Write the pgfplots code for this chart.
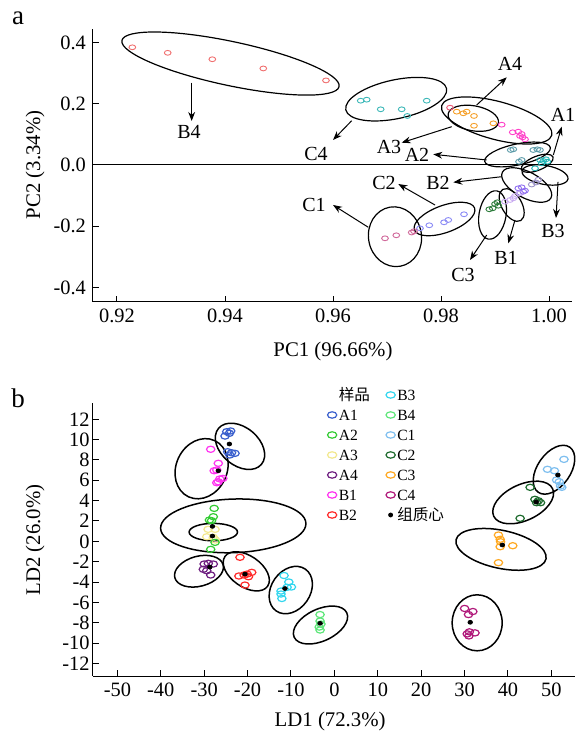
\documentclass[border=0pt]{standalone}
\usepackage{fontspec}
\setmainfont{Liberation Serif}
\newfontfamily\cjk{Noto Sans CJK SC}
\usepackage{pgfplots}
\pgfplotsset{compat=1.18}
\usetikzlibrary{arrows.meta}

% panel a colours
\definecolor{aB4}{HTML}{F07070}
\definecolor{aC4}{HTML}{3DB8B8}
\definecolor{aRd}{HTML}{F05A78}
\definecolor{aA3}{HTML}{F5A02A}
\definecolor{aA4}{HTML}{FF40C8}
\definecolor{aA2}{HTML}{5A9AA8}
\definecolor{aA1}{HTML}{22B5B5}
\definecolor{aB3}{HTML}{9B93C8}
\definecolor{aB2}{HTML}{9070F0}
\definecolor{aB1}{HTML}{C8AAF0}
\definecolor{aC3}{HTML}{2E7D3C}
\definecolor{aC2}{HTML}{8A8AF5}
\definecolor{aC1}{HTML}{D0689A}
% panel b colours
\definecolor{bA1}{HTML}{3A5FCD}
\definecolor{bA2}{HTML}{33CC33}
\definecolor{bA3}{HTML}{F2E88E}
\definecolor{bA4}{HTML}{6E1F80}
\definecolor{bB1}{HTML}{FF33F0}
\definecolor{bB2}{HTML}{FF2A2A}
\definecolor{bB3}{HTML}{33D6EE}
\definecolor{bB4}{HTML}{5EE67A}
\definecolor{bC1}{HTML}{7FBFEF}
\definecolor{bC2}{HTML}{1E6B2E}
\definecolor{bC3}{HTML}{FFA820}
\definecolor{bC4}{HTML}{B0187A}

\tikzset{
  arr/.style={-{Stealth[length=4.5pt,width=3.4pt]}, line width=0.5pt},
  lab/.style={font=\fontsize{10}{12}\selectfont, inner sep=0pt},
}
% confidence ellipse: [line width]{cx}{cy}{x radius pt}{y radius pt}{angle}
\newcommand{\ellip}[6][0.6pt]{\draw[black, line width=#1, rotate around={#6:(axis cs:#2,#3)}] (axis cs:#2,#3) ellipse [x radius=#4pt, y radius=#5pt];}

\pgfplotsset{
  base/.style={scale only axis, axis x line=bottom, axis y line=left,
    axis line style={-, line width=0.5pt}, tick align=inside, major tick length=3.2pt,
    tick style={black, line width=0.5pt}, clip=false,
    /pgf/number format/assume math mode=true,
    tick label style={font=\fontsize{10.2}{12}\selectfont},
    label style={font=\fontsize{10.4}{12}\selectfont}},
  pa/.style={only marks, mark=o, mark size=1.2pt, line width=0.45pt, mark options={xscale=1.4}, forget plot},
  pb/.style={only marks, mark=o, mark size=1.55pt, line width=0.6pt, mark options={xscale=1.35}, forget plot},
  cen/.style={only marks, mark=*, mark size=0.95pt, black, mark options={xscale=1.2}, forget plot},
  lg/.style={only marks, mark=o, mark size=1.6pt, line width=0.6pt, mark options={xscale=1.45}},
}

\begin{document}
\begin{tikzpicture}
\useasboundingbox (0,0) rectangle (288.5pt,369pt);
\node[font=\fontsize{13.5}{14}\selectfont] at (9pt,360pt) {a};
\node[font=\fontsize{13.5}{14}\selectfont] at (9pt,170pt) {b};

% ---------------- panel a : PCA ----------------
\begin{axis}[base, at={(46.5pt,218pt)}, anchor=south west,
  width=239.5pt, height=136.5pt,
  xmin=0.915556, xmax=1.004259, ymin=-0.447, ymax=0.4437,
  xtick={0.92,0.94,0.96,0.98,1.00}, ytick={-0.4,-0.2,0,0.2,0.4},
  xticklabel style={/pgf/number format/.cd, fixed, fixed zerofill, precision=2},
  yticklabel style={/pgf/number format/.cd, fixed, fixed zerofill, precision=1},
  xlabel={PC1 (96.66\%)}, ylabel={PC2 (3.34\%)},
  xlabel style={at={(axis description cs:0.501,-0.183)}, anchor=center},
  ylabel style={at={(axis description cs:-0.121,0.502)}, anchor=center},
]
\addplot[black, line width=0.5pt, forget plot] coordinates {(0.915556,0) (1.004259,0)};

\addplot[pa, color=aB4] coordinates {(0.92284,0.384) (0.92939,0.366) (0.93765,0.345) (0.94709,0.315) (0.95870,0.276)};
\addplot[pa, color=aC4] coordinates {(0.96513,0.2098) (0.96624,0.2131) (0.96883,0.1817) (0.97272,0.1817) (0.97376,0.1599) (0.97735,0.2098)};
\addplot[pa, color=aRd] coordinates {(0.98167,0.187)};
\addplot[pa, color=aA3] coordinates {(0.98291,0.174) (0.98413,0.1687) (0.98476,0.174) (0.98611,0.160) (0.98969,0.136) (0.98611,0.128)};
\addplot[pa, color=aA4] coordinates {(0.99124,0.1315) (0.99328,0.1067) (0.99431,0.1086) (0.99494,0.1011) (0.99513,0.0904) (0.99556,0.0838) (0.99463,0.0946)};
\addplot[pa, color=aA2] coordinates {(0.99291,0.0489) (0.99339,0.0512) (0.99709,0.0489) (0.99783,0.0512) (0.99833,0.0489) (0.99494,0.0163) (0.99444,0.0108)};
\addplot[pa, color=aA1] coordinates {(0.99833,0.0163) (0.99894,0.0131) (0.99944,0.0186) (0.99865,0.0055) (0.99741,-0.0108) (0.99969,0.0108)};
\addplot[pa, color=aB3] coordinates {(0.99680,-0.0636) (0.99759,-0.0571) (0.99802,-0.048)};
\addplot[pa, color=aB2] coordinates {(0.99431,-0.076) (0.99494,-0.0728) (0.99524,-0.0871) (0.99556,-0.0838) (0.99463,-0.0914)};
\addplot[pa, color=aB1] coordinates {(0.99185,-0.1197) (0.99278,-0.1142) (0.99339,-0.1086) (0.99370,-0.1011) (0.99450,-0.0923)};
\addplot[pa, color=aC3] coordinates {(0.98894,-0.1445) (0.98957,-0.1413) (0.99,-0.1272) (0.99043,-0.1217) (0.99061,-0.1328)};
\addplot[pa, color=aC2] coordinates {(0.97611,-0.2065) (0.97783,-0.1967) (0.98056,-0.187) (0.98135,-0.1794) (0.98426,-0.1608)};
\addplot[pa, color=aC1] coordinates {(0.96963,-0.2392) (0.97172,-0.2294) (0.97457,-0.2202) (0.975,-0.216)};

\ellip{0.94102}{0.331}{55.5}{11}{-12}
\ellip{0.97170}{0.2147}{25.75}{9.7}{12}
\ellip{0.99031}{0.1452}{28.5}{9.5}{-15}
\ellip{0.98598}{0.1524}{12.75}{6.25}{-10}
\ellip{0.99417}{0.0343}{16.75}{5.25}{12}
\ellip{0.99782}{0.0055}{8.5}{3.5}{22}
\ellip{0.99926}{-0.0326}{11.65}{4.75}{-10}
\ellip{0.99587}{-0.0653}{13.75}{6.5}{-28}
\ellip{0.99309}{-0.1305}{9}{5}{-60}
\ellip{0.98954}{-0.1631}{12.25}{6.75}{80}
\ellip{0.98065}{-0.1762}{16}{6.75}{20}
\ellip{0.97148}{-0.234}{13.25}{15}{10}

\draw[arr] (axis cs:0.93383,0.2685) -- (axis cs:0.93383,0.1436);
\node[lab] at (axis cs:0.93333,0.1077) {B4};
\draw[arr] (axis cs:0.96346,0.1445) -- (axis cs:0.96,0.0816);
\node[lab] at (axis cs:0.95685,0.0359) {C4};
\draw[arr] (axis cs:0.98661,0.1958) -- (axis cs:0.99217,0.2861);
\node[lab] at (axis cs:0.99278,0.3295) {A4};
\draw[arr] (axis cs:0.98198,0.125) -- (axis cs:0.97272,0.0728);
\node[lab] at (axis cs:0.97037,0.0587) {A3};
\draw[arr] (axis cs:0.98846,0.0163) -- (axis cs:0.97857,0.0349);
\node[lab] at (axis cs:0.97556,0.0326) {A2};
\draw[arr] (axis cs:1.0008,0.0326) -- (axis cs:1.00235,0.125);
\node[lab] at (axis cs:1.00259,0.1631) {A1};
\draw[arr] (axis cs:0.99124,-0.0382) -- (axis cs:0.98228,-0.0564);
\node[lab] at (axis cs:0.97944,-0.0587) {B2};
\draw[arr] (axis cs:1.00167,-0.055) -- (axis cs:1.00130,-0.1729);
\node[lab] at (axis cs:1.00074,-0.2153) {B3};
\draw[arr] (axis cs:0.9937,-0.1794) -- (axis cs:0.99246,-0.2555);
\node[lab] at (axis cs:0.99204,-0.3034) {B1};
\draw[arr] (axis cs:0.98846,-0.2284) -- (axis cs:0.98537,-0.31);
\node[lab] at (axis cs:0.98407,-0.3589) {C3};
\draw[arr] (axis cs:0.97889,-0.1305) -- (axis cs:0.97209,-0.062);
\node[lab] at (axis cs:0.96944,-0.0587) {C2};
\draw[arr] (axis cs:0.96654,-0.2033) -- (axis cs:0.96,-0.1305);
\node[lab] at (axis cs:0.95648,-0.1305) {C1};
\end{axis}

% ---------------- panel b : LDA ----------------
\begin{axis}[base, at={(46.5pt,31pt)}, anchor=south west,
  width=241pt, height=136.5pt,
  xmin=-55.62, xmax=55.44, ymin=-13.24, ymax=13.6,
  xtick={-50,-40,...,50}, ytick={-12,-10,...,12},
  yticklabel style={xshift=1.8pt},
  xlabel={LD1 (72.3\%)}, ylabel={LD2 (26.0\%)},
  xlabel style={at={(axis description cs:0.492,-0.168)}, anchor=center},
  ylabel style={at={(axis description cs:-0.120,0.498)}, anchor=center},
  legend columns=2, legend cell align=left,
  legend image code/.code={\draw[#1] plot coordinates {(0pt,0pt)};},
  legend style={at={(0.4857,1.073)}, anchor=north west, draw=none, fill=none,
    inner sep=0pt, font=\fontsize{7.8}{8.5}\selectfont, row sep=-1.5pt,
    nodes={inner sep=1pt, text height=0.75em, text depth=0.2em},
    /tikz/every even column/.append style={column sep=7pt}},
]
\addplot[pb, color=bA1] coordinates {(-24.8,10.78) (-23.9,10.85) (-24.2,10.62) (-25.2,10.35) (-24.6,8.81) (-23.7,8.71) (-22.9,8.65) (-24.1,8.49)};
\addplot[pb, color=bB1] coordinates {(-28.5,9.05) (-26.75,7.67) (-27.1,7.01) (-27.7,6.94) (-26.4,6.13) (-25.7,6.19) (-26.75,5.86) (-27.1,5.76)};
\addplot[pb, color=bA3] coordinates {(-29.1,1.18) (-27.5,1.18) (-29.4,0.45) (-27.9,0.39) (-27.4,0.13)};
\addplot[pb, color=bA2] coordinates {(-27.7,3.24) (-27.9,2.42) (-28.8,2.09) (-28.3,2.03) (-27.5,-0.1) (-28.5,-0.79)};
\addplot[pb, color=bA4] coordinates {(-30.0,-2.23) (-29.05,-2.16) (-27.9,-2.23) (-30.2,-2.75) (-29.4,-2.89) (-28.5,-3.31)};
\addplot[pb, color=bB2] coordinates {(-21.75,-1.57) (-22.0,-3.41) (-20.8,-3.31) (-20.1,-3.22) (-19.05,-3.05) (-19.8,-3.48) (-20.6,-4.30)};
\addplot[pb, color=bB3] coordinates {(-11.6,-3.36) (-10.5,-4.0) (-9.9,-4.49) (-10.9,-4.52) (-12.3,-4.89) (-12.3,-5.18) (-12.1,-5.62)};
\addplot[pb, color=bB4] coordinates {(-3.3,-7.2) (-3.3,-7.84) (-3.1,-8.13) (-3.5,-8.43) (-3.3,-8.72)};
\addplot[pb, color=bC1] coordinates {(52.9,8.06) (49.1,7.08) (50.7,6.94) (51.2,6.03) (51.8,5.86) (52.1,5.44) (52.4,5.31)};
\addplot[pb, color=bC2] coordinates {(45.1,5.31) (46.2,4.13) (47.0,3.99) (47.5,3.80) (46.6,3.80) (42.8,2.26)};
\addplot[pb, color=bC3] coordinates {(37.8,0.62) (38.2,0.2) (38.3,-0.04) (38.2,-0.53) (41.1,-0.43) (37.8,-2.1)};
\addplot[pb, color=bC4] coordinates {(30.0,-6.6) (31.9,-6.9) (30.9,-7.2) (31.1,-8.9) (32.4,-9.0) (31.0,-9.3) (30.6,-9.1)};
% group centroids
\addplot[cen] coordinates {(-24.2,9.57) (-26.75,6.94) (-28.1,1.47) (-28.1,0.52) (-28.7,-2.53) (-20.6,-3.22) (-11.4,-4.64) (-3.3,-8.06) (51.5,6.52) (46.5,3.86) (38.7,-0.36) (31.3,-7.96)};

\ellip[0.75pt]{-21.75}{9.34}{14}{9.5}{-40}
\ellip[0.75pt]{-30.6}{7.14}{15.5}{12.75}{65}
\ellip[0.75pt]{-23.3}{1.52}{36.35}{13.4}{2}
\ellip[0.75pt]{-27.9}{0.91}{12.1}{4.35}{0}
\ellip[0.75pt]{-31.2}{-2.94}{12.5}{7.5}{15}
\ellip[0.75pt]{-20.3}{-2.95}{13}{7.75}{-35}
\ellip[0.75pt]{-10.05}{-4.79}{12.75}{9.75}{55}
\ellip[0.75pt]{-3.2}{-8.23}{14.5}{8}{25}
\ellip[0.75pt]{50.6}{7.04}{13.75}{8.25}{55}
\ellip[0.75pt]{43.5}{3.82}{16.25}{9}{25}
\ellip[0.75pt]{38.4}{-0.79}{23}{9.5}{-12}
\ellip[0.75pt]{32.9}{-8.01}{12.5}{14}{0}

\addlegendimage{empty legend}\addlegendentry{{\cjk 样品}}
\addlegendimage{lg, color=bB3}\addlegendentry{B3}
\addlegendimage{lg, color=bA1}\addlegendentry{A1}
\addlegendimage{lg, color=bB4}\addlegendentry{B4}
\addlegendimage{lg, color=bA2}\addlegendentry{A2}
\addlegendimage{lg, color=bC1}\addlegendentry{C1}
\addlegendimage{lg, color=bA3}\addlegendentry{A3}
\addlegendimage{lg, color=bC2}\addlegendentry{C2}
\addlegendimage{lg, color=bA4}\addlegendentry{A4}
\addlegendimage{lg, color=bC3}\addlegendentry{C3}
\addlegendimage{lg, color=bB1}\addlegendentry{B1}
\addlegendimage{lg, color=bC4}\addlegendentry{C4}
\addlegendimage{lg, color=bB2}\addlegendentry{B2}
\addlegendimage{only marks, mark=*, mark size=1pt, black}\addlegendentry{{\cjk 组质心}}
\end{axis}
\end{tikzpicture}
\end{document}
